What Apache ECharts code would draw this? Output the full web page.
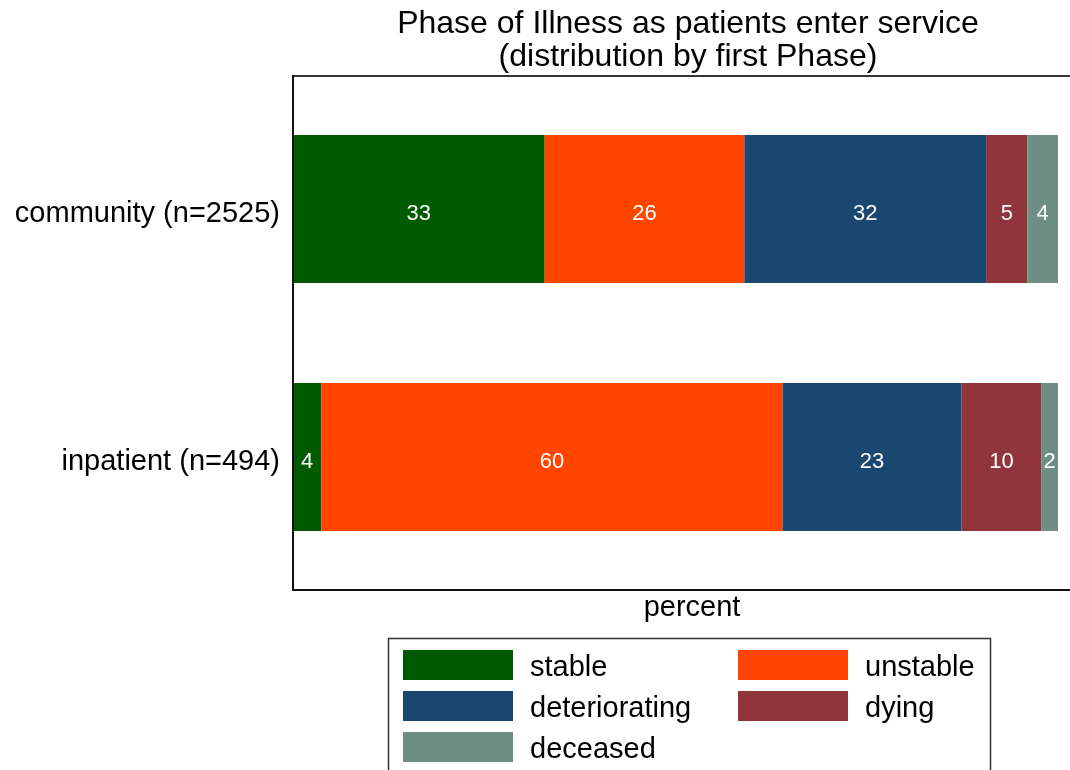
<!DOCTYPE html>
<html>
<head>
<meta charset="utf-8">
<script src="https://cdn.jsdelivr.net/npm/echarts@6/dist/echarts.min.js"></script>
<style>html,body{margin:0;padding:0;background:#fff}#c{width:1070px;height:770px}</style>
</head>
<body>
<div id="c"></div>
<script>
var categories = ['community (n=2525)', 'inpatient (n=494)'];
var phases = ['stable', 'unstable', 'deteriorating', 'dying', 'deceased'];
var stable = [32.9, 3.7];
var unstable = [26.1, 60.3];
var deteriorating = [31.6, 23.4];
var dying = [5.4, 10.4];
var deceased = [4.0, 2.2];
var colors = ['#005a00', '#ff4500', '#1a476f', '#90353b', '#6e8e84'];

var FONT = 'Liberation Sans, Arial, Helvetica, sans-serif';
var seriesData = [stable, unstable, deteriorating, dying, deceased];
var legendText = {
  fontFamily: FONT, fontSize: 29, color: '#000', padding: [0, 0, 0, 12],
  rich: {a: {fontFamily: FONT, fontSize: 29, color: '#000', padding: [5, 0, 0, 0]}}
};

var chart = echarts.init(document.getElementById('c'));
chart.setOption({
  animation: false,
  backgroundColor: '#fff',
  title: {
    text: 'Phase of Illness as patients enter service\n(distribution by first Phase)',
    left: 688,
    top: 8,
    textAlign: 'center',
    padding: 0,
    textStyle: {fontFamily: FONT, fontSize: 32, fontWeight: 'normal', color: '#000', lineHeight: 33}
  },
  legend: [
    {
      orient: 'vertical', left: 403, top: 650, padding: 0,
      data: ['stable', 'deteriorating', 'deceased'],
      icon: 'rect', itemWidth: 110, itemHeight: 30, itemGap: 9,
      formatter: '{a|{name}}', textStyle: legendText
    },
    {
      orient: 'vertical', left: 738, top: 650, padding: 0,
      data: ['unstable', 'dying'],
      icon: 'rect', itemWidth: 110, itemHeight: 30, itemGap: 9,
      formatter: '{a|{name}}', textStyle: legendText
    }
  ],
  grid: {left: 293, right: 12, top: 85, height: 496, containLabel: false},
  xAxis: {
    type: 'value', min: 0, max: 100,
    axisLine: {show: false}, axisTick: {show: false}, axisLabel: {show: false}, splitLine: {show: false}
  },
  yAxis: {
    type: 'category', data: categories, inverse: true,
    axisLine: {show: false}, axisTick: {show: false},
    axisLabel: {fontFamily: FONT, fontSize: 29, color: '#000', margin: 13, verticalAlign: 'top', lineHeight: 10}
  },
  graphic: [
    {type: 'line', z: 100, shape: {x1: 293, y1: 76, x2: 1075, y2: 76}, style: {stroke: '#333', lineWidth: 2}},
    {type: 'line', z: 100, shape: {x1: 293, y1: 75, x2: 293, y2: 591}, style: {stroke: '#111', lineWidth: 2}},
    {type: 'line', z: 100, shape: {x1: 292, y1: 590, x2: 1075, y2: 590}, style: {stroke: '#111', lineWidth: 2}},
    {type: 'text', z: 100, x: 692, y: 608, style: {text: 'percent', fontFamily: FONT, fontSize: 29, fill: '#000', textAlign: 'center', textVerticalAlign: 'middle'}},
    {type: 'rect', z: 0, shape: {x: 388.5, y: 638.5, width: 602, height: 200}, style: {fill: 'none', stroke: '#333', lineWidth: 1.5}}
  ],
  series: phases.map(function (name, i) {
    return {
      name: name, type: 'bar', stack: 'total', barWidth: 148,
      data: seriesData[i],
      itemStyle: {color: colors[i]},
      label: {
        show: true, position: 'inside', offset: [0, 5], color: '#fff', fontFamily: FONT, fontSize: 22,
        formatter: function (p) { return Math.round(p.value); }
      }
    };
  })
});
</script>
</body>
</html>
